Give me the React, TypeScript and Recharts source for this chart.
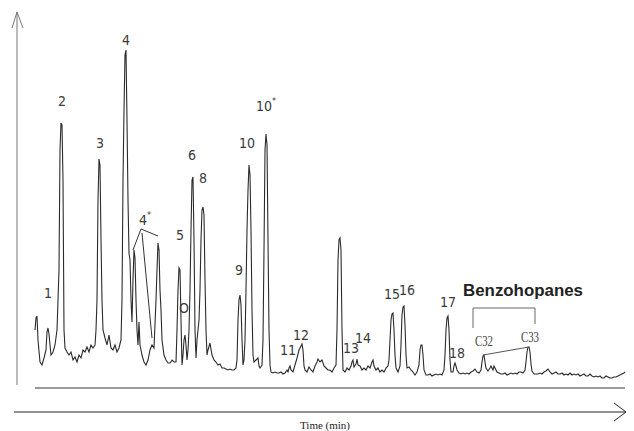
import { ComposedChart, Line, Scatter, XAxis, YAxis, ReferenceLine } from 'recharts';

// chromatogram trace: [retention (scan), abundance]
const trace: [number, number][] = [
  [35, 58], [36, 70], [37, 72], [38, 48], [40, 26], [42, 23], [44, 30], [46, 38], [47, 56], [48, 60],
  [49, 54], [50, 43], [51, 33], [53, 36], [55, 43], [57, 58], [59, 118], [60, 238], [61, 265], [62, 263],
  [63, 208], [64, 58], [65, 40], [67, 36], [69, 33], [71, 36], [73, 28], [75, 31], [77, 26], [79, 33],
  [81, 30], [83, 38], [85, 36], [87, 41], [89, 36], [91, 43], [93, 40], [95, 43], [96, 58], [97, 88],
  [98, 188], [99, 229], [100, 223], [101, 148], [102, 88], [103, 58], [105, 50], [107, 43], [109, 53], [111, 40],
  [113, 38], [115, 43], [117, 36], [119, 40], [121, 48], [122, 88], [123, 208], [124, 278], [125, 333], [126, 338],
  [127, 268], [128, 188], [129, 135], [130, 128], [131, 88], [132, 66], [133, 108], [134, 138], [135, 130], [136, 88],
  [137, 58], [138, 43], [139, 66], [140, 43], [142, 33], [144, 26], [146, 23], [148, 28], [150, 38], [152, 43],
  [154, 40], [156, 88], [157, 118], [158, 145], [159, 138], [160, 98], [161, 78], [162, 48], [164, 33], [166, 28],
  [168, 25], [170, 25], [172, 28], [174, 26], [176, 26], [177, 58], [178, 98], [179, 120], [180, 118], [181, 68],
  [182, 23], [183, 33], [184, 48], [185, 53], [186, 43], [187, 28], [188, 38], [189, 58], [190, 98], [191, 158],
  [192, 208], [193, 211], [194, 148], [195, 58], [196, 30], [197, 48], [199, 68], [200, 98], [201, 148], [202, 178],
  [203, 181], [204, 173], [205, 108], [206, 58], [207, 33], [208, 38], [210, 45], [212, 33], [214, 28], [216, 26],
  [218, 23], [220, 24], [222, 20], [224, 20], [226, 19], [228, 18], [230, 19], [232, 18], [234, 18], [236, 20],
  [237, 28], [238, 68], [239, 88], [240, 93], [241, 83], [242, 48], [243, 23], [244, 28], [245, 48], [246, 98],
  [247, 158], [248, 198], [249, 223], [250, 213], [251, 158], [252, 78], [253, 33], [254, 26], [256, 28], [258, 30],
  [259, 22], [260, 20], [262, 23], [263, 48], [264, 138], [265, 238], [266, 254], [267, 243], [268, 148], [269, 58],
  [270, 23], [271, 16], [273, 15], [275, 16], [277, 15], [279, 15], [281, 16], [283, 14], [285, 15], [287, 18],
  [288, 16], [289, 20], [290, 22], [291, 18], [293, 16], [295, 23], [297, 30], [299, 38], [301, 42], [302, 44],
  [303, 38], [304, 22], [305, 18], [307, 16], [309, 21], [311, 18], [313, 16], [315, 22], [317, 26], [318, 29],
  [320, 26], [322, 28], [324, 22], [326, 20], [328, 18], [330, 18], [332, 16], [334, 20], [336, 23], [337, 58],
  [338, 128], [339, 148], [340, 150], [341, 138], [342, 58], [343, 18], [345, 16], [347, 20], [349, 18], [351, 22],
  [352, 26], [353, 28], [354, 21], [356, 24], [357, 29], [358, 23], [360, 22], [362, 18], [364, 20], [366, 18],
  [368, 22], [370, 20], [372, 26], [373, 28], [374, 22], [376, 18], [378, 20], [380, 16], [382, 18], [384, 16],
  [386, 20], [388, 22], [389, 28], [390, 48], [391, 68], [392, 74], [393, 75], [394, 58], [395, 33], [396, 20],
  [398, 16], [400, 22], [401, 43], [402, 73], [403, 81], [404, 82], [405, 63], [406, 33], [407, 20], [409, 21],
  [411, 18], [413, 16], [415, 13], [417, 16], [419, 23], [420, 38], [421, 43], [422, 43], [423, 33], [424, 18],
  [426, 13], [428, 13], [430, 14], [432, 12], [434, 13], [436, 14], [438, 13], [440, 14], [442, 13], [444, 18],
  [445, 33], [446, 58], [447, 70], [448, 72], [449, 58], [450, 28], [451, 16], [453, 16], [454, 22], [455, 25],
  [456, 22], [457, 18], [459, 15], [461, 14], [463, 15], [465, 14], [467, 15], [469, 14], [471, 16], [473, 17],
  [475, 19], [477, 16], [479, 15], [481, 18], [482, 26], [483, 32], [484, 33], [485, 26], [486, 20], [488, 17],
  [490, 20], [491, 22], [493, 18], [494, 22], [495, 20], [497, 16], [499, 15], [501, 14], [503, 14], [505, 15],
  [507, 13], [509, 14], [511, 15], [513, 14], [515, 15], [517, 14], [519, 16], [521, 16], [523, 15], [525, 18],
  [526, 26], [527, 36], [528, 41], [529, 41], [530, 36], [531, 24], [532, 17], [534, 14], [536, 14], [538, 14],
  [540, 15], [542, 14], [544, 16], [546, 17], [548, 19], [550, 16], [552, 14], [554, 15], [556, 16], [558, 14],
  [560, 14], [562, 15], [564, 13], [566, 14], [568, 13], [570, 15], [572, 13], [574, 14], [576, 13], [578, 14],
  [580, 12], [582, 13], [584, 14], [586, 12], [588, 12], [590, 14], [592, 12], [594, 11], [596, 12], [598, 11],
  [600, 12], [602, 10], [604, 10], [606, 12], [608, 11], [610, 10], [612, 10], [614, 11], [616, 11], [618, 12],
  [620, 13], [622, 14], [624, 15], [625, 16],
];

// peak numbers and where they sit
const peakNames = ['1', '2', '3', '4', '4*', '5', 'O', '6', '8', '9', '10', '10*', '11', '12', '13', '14', '15', '16', '17', '18'];
const peakTimes = [48, 62, 100, 126, 145, 180, 184, 192, 203, 239, 247, 266, 288, 301, 351, 363, 392, 407, 448, 457];
const peakLevels = [95, 287, 245, 348, 168, 153, 80, 233, 210, 118, 245, 282, 38, 53, 40, 50, 94, 98, 86, 35];

const data = trace.map(([t, a]) => ({ t, a }));
const labels = peakNames.map((name, i) => ({ name, t: peakTimes[i], a: peakLevels[i] }));

const PeakText = (props: any) => {
  const { cx, cy, payload } = props;
  const star = payload.name.endsWith('*');
  const base = star ? payload.name.slice(0, -1) : payload.name;
  return (
    <text x={cx} y={cy} textAnchor="middle" dominantBaseline="central"
      fontFamily="'DejaVu Sans Condensed', 'DejaVu Sans', sans-serif" fontSize={14} fill="#3a3a3a">
      {base}
      {star && <tspan fontSize={9} dy={-5}>*</tspan>}
    </text>
  );
};

const seg = (x1: number, y1: number, x2: number, y2: number, stroke = '#555', w = 1) => (
  <ReferenceLine key={`${x1}-${y1}-${x2}-${y2}`} segment={[{ x: x1, y: y1 }, { x: x2, y: y2 }]}
    stroke={stroke} strokeWidth={w} ifOverflow="visible" />
);

const note = (x: number, y: number, text: string, style: any) => (
  <ReferenceLine key={text} segment={[{ x, y }, { x: x + 0.01, y }]} stroke="none" ifOverflow="visible"
    label={(p: any) => (
      <text x={p.viewBox.x} y={p.viewBox.y} textAnchor="middle" dominantBaseline="central" {...style}>{text}</text>
    )} />
);

export default function App() {
  return (
    <div style={{ position: 'absolute', left: 0, top: 0, background: '#fff' }}>
      <ComposedChart width={634} height={431} data={data} margin={{ top: 0, right: 0, bottom: 0, left: 0 }}>
        <XAxis dataKey="t" type="number" domain={[0, 634]} allowDataOverflow hide />
        <YAxis type="number" domain={[-43, 388]} allowDataOverflow hide />

        {/* axes drawn as arrows */}
        {seg(17, 3, 17, 376, '#777')}
        {seg(12, 360, 17, 376, '#777')}
        {seg(17, 376, 23, 360, '#777')}
        {seg(35, 0, 625, 0, '#9a9a9a', 2)}
        {seg(14, -24, 626, -24, '#222')}
        {seg(614, -15, 626, -24, '#222')}
        {seg(626, -24, 614, -33, '#222')}

        <Line dataKey="a" type="linear" stroke="#2b2b2b" strokeWidth={1.1} dot={false} activeDot={false}
          isAnimationActive={false} />

        {/* 4* pointers */}
        {seg(141, 159, 133, 138, '#333')}
        {seg(141, 159, 158, 152, '#333')}
        {seg(142, 155, 152, 50, '#333')}

        {/* benzohopanes bracket and C32-C33 link */}
        {seg(473, 60, 473, 80, '#666')}
        {seg(473, 80, 535, 80, '#666')}
        {seg(535, 80, 535, 64, '#666')}
        {seg(483, 33, 529, 41, '#555')}

        {note(523, 98, 'Benzohopanes', { fontFamily: "'Liberation Sans', Arial, sans-serif", fontWeight: 700, fontSize: 17, fill: '#222', textLength: 120, lengthAdjust: 'spacingAndGlyphs' })}
        {note(484, 47, 'C32', { fontFamily: "'Liberation Serif', serif", fontSize: 14, fill: '#444', textLength: 18, lengthAdjust: 'spacingAndGlyphs' })}
        {note(530, 51, 'C33', { fontFamily: "'Liberation Serif', serif", fontSize: 14, fill: '#444', textLength: 18, lengthAdjust: 'spacingAndGlyphs' })}
        {note(325, -37, 'Time (min)', { fontFamily: "'Liberation Serif', serif", fontSize: 11, fill: '#222', textLength: 50, lengthAdjust: 'spacingAndGlyphs' })}

        <Scatter data={labels} dataKey="a" shape={PeakText} legendType="none" isAnimationActive={false} />
      </ComposedChart>
    </div>
  );
}
